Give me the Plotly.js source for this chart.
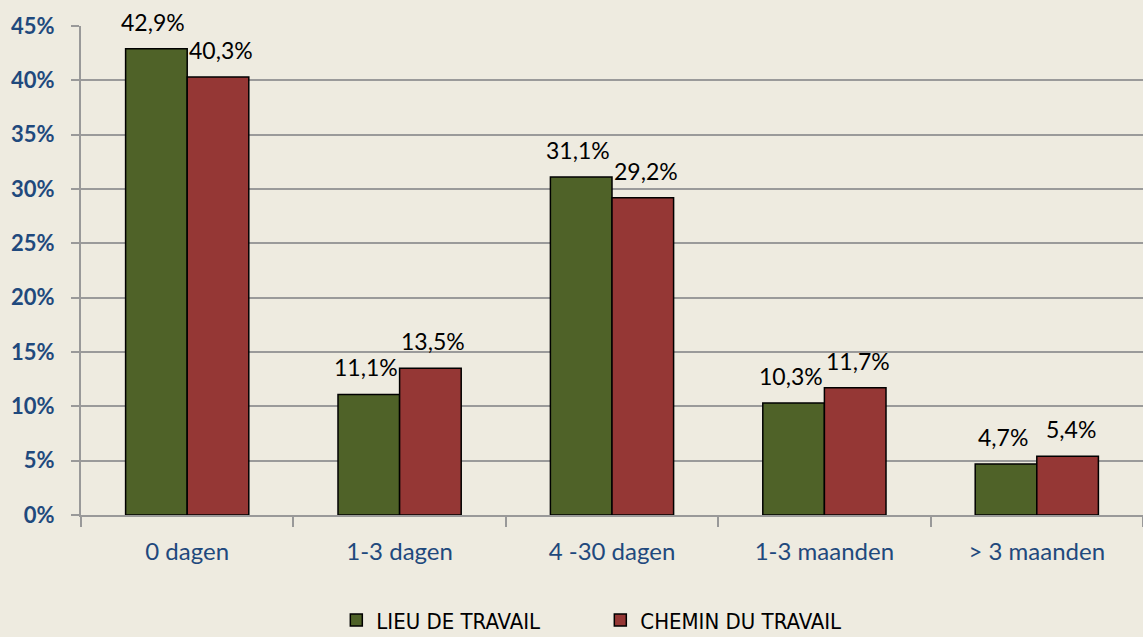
<!DOCTYPE html>
<html><head><meta charset="utf-8">
<script src="https://cdn.plot.ly/plotly-3.0.1.min.js"></script>
<style>html,body{margin:0;padding:0;background:#EEEBE0;}</style>
</head><body>
<div id="chart" style="width:1143px;height:637px;"></div>
<script>
const categories = ["0 dagen", "1-3 dagen", "4 -30 dagen", "1-3 maanden", "> 3 maanden"];
const lieuValues = [42.9, 11.1, 31.1, 10.3, 4.7];
const cheminValues = [40.3, 13.5, 29.2, 11.7, 5.4];
const seriesNames = ["LIEU DE TRAVAIL", "CHEMIN DU TRAVAIL"];

const fmt = v => v.toFixed(1).replace('.', ',') + '%';

const W = 1143, H = 637;
const margin = {l: 81, r: 0, t: 26, b: 122, autoexpand: false};
const bargap = 0.42;
const barPx = (W - margin.l - margin.r) / categories.length * (1 - bargap) / 2;

const traces = [
  {type: "bar", x: categories, y: lieuValues, name: seriesNames[0],
   marker: {color: "#4F6228", line: {color: "#000", width: 1.5}}},
  {type: "bar", x: categories, y: cheminValues, name: seriesNames[1],
   marker: {color: "#953735", line: {color: "#000", width: 1.5}}}
];

const labelFont = {family: "Lato, sans-serif", size: 23, color: "#000"};
const annotations = [];
[lieuValues, cheminValues].forEach((vals, si) => {
  vals.forEach((v, i) => {
    annotations.push({x: categories[i], y: v, xref: "x", yref: "y", text: fmt(v),
      showarrow: false, yanchor: "bottom", xanchor: "center",
      xshift: (si === 0 ? -1 : 1) * (barPx / 2 + 3), yshift: 11, font: labelFont});
  });
});

const layout = {
  width: W, height: H,
  paper_bgcolor: "#EEEBE0", plot_bgcolor: "#EEEBE0",
  margin: margin,
  barmode: "group", bargap: bargap, bargroupgap: 0,
  showlegend: true,
  annotations: annotations,
  legend: {orientation: "h", x: 0.489, xanchor: "center", y: -0.172, yanchor: "top",
           font: {family: "DejaVu Sans Condensed, Liberation Sans Narrow, sans-serif", size: 22, color: "#000"},
           itemwidth: 30, entrywidth: 219, entrywidthmode: "pixels",
           bgcolor: "rgba(0,0,0,0)", traceorder: "normal"},
  xaxis: {type: "category", showgrid: false, showline: true, linecolor: "#999", linewidth: 2,
          ticks: "outside", tickson: "boundaries", ticklen: 10, tickcolor: "#999", tickwidth: 2,
          ticklabelstandoff: 14,
          tickfont: {family: "Lato, sans-serif", size: 24, color: "#1F497D"}},
  yaxis: {range: [0, 45], dtick: 5, ticksuffix: "%", showgrid: true, gridcolor: "#9a9a9a", gridwidth: 2,
          showline: true, linecolor: "#999", linewidth: 2, zeroline: false,
          ticks: "outside", ticklen: 8, tickcolor: "#999", tickwidth: 2,
          ticklabelstandoff: 12,
          tickfont: {family: "Lato, sans-serif", size: 22, color: "#1F497D", weight: "bold"}}
};

Plotly.newPlot("chart", traces, layout, {displayModeBar: false});
</script>
</body></html>
